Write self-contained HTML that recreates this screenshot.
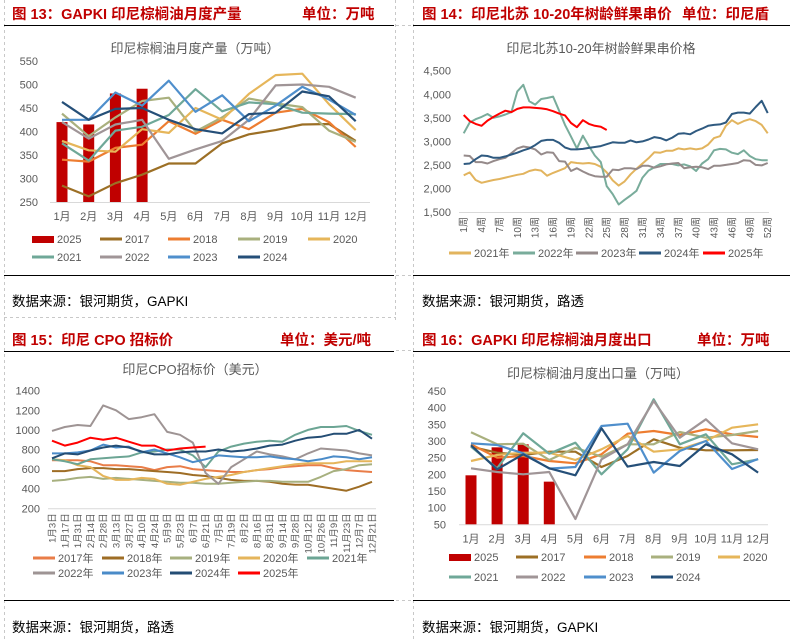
<!DOCTYPE html>
<html><head><meta charset="utf-8"><style>
html,body{margin:0;padding:0;background:#fff;}
svg{display:block;font-family:"Liberation Sans","Noto Sans CJK SC",sans-serif;}
</style></head><body>
<svg id="s" width="792" height="639" viewBox="0 0 792 639" xmlns="http://www.w3.org/2000/svg">
<g stroke="#c8c8c8" stroke-dasharray="3,3" fill="none">
<line x1="4.5" y1="0" x2="4.5" y2="639"/><line x1="413.5" y1="0" x2="413.5" y2="639"/>
<line x1="396" y1="25.5" x2="413" y2="25.5"/><line x1="396" y1="275.5" x2="413" y2="275.5"/>
<line x1="396" y1="350.5" x2="413" y2="350.5"/><line x1="396" y1="600.5" x2="413" y2="600.5"/>
<line x1="4" y1="317.5" x2="396" y2="317.5"/><line x1="395.5" y1="0" x2="395.5" y2="320"/>
</g>
<g stroke="#000" stroke-width="1">
<line x1="4" y1="25.5" x2="394" y2="25.5"/><line x1="4" y1="275.5" x2="394" y2="275.5"/>
<line x1="413" y1="25.5" x2="790" y2="25.5"/><line x1="413" y1="275.5" x2="790" y2="275.5"/>
<line x1="4" y1="351.5" x2="394" y2="351.5"/><line x1="4" y1="600.5" x2="394" y2="600.5"/>
<line x1="413" y1="351.5" x2="790" y2="351.5"/><line x1="413" y1="600.5" x2="790" y2="600.5"/>
</g>
<g fill="#C00000" font-weight="bold" font-size="14.5">
<text x="12" y="19">图 13：GAPKI 印尼棕榈油月度产量</text>
<text x="302" y="19">单位：万吨</text>
<text x="422" y="19">图 14：印尼北苏 10-20年树龄鲜果串价</text>
<text x="682" y="19">单位：印尼盾</text>
<text x="12" y="345">图 15：印尼 CPO 招标价</text>
<text x="280" y="345">单位：美元/吨</text>
<text x="422" y="345">图 16：GAPKI 印尼棕榈油月度出口</text>
<text x="697" y="345">单位：万吨</text>
</g>
<g fill="#000" font-size="13.5">
<text x="12" y="306">数据来源：银河期货，GAPKI</text>
<text x="422" y="306">数据来源：银河期货，路透</text>
<text x="12" y="632">数据来源：银河期货，路透</text>
<text x="422" y="632">数据来源：银河期货，GAPKI</text>
</g>
<g fill="#595959" font-size="13" text-anchor="middle">
<text x="195" y="53">印尼棕榈油月度产量（万吨）</text>
<text x="601" y="53">印尼北苏10-20年树龄鲜果串价格</text>
<text x="195" y="374">印尼CPO招标价（美元）</text>
<text x="598" y="378">印尼棕榈油月度出口量（万吨）</text>
</g>
</svg>
<script>
// ---- Chart 13 data ----
const months = ['1月','2月','3月','4月','5月','6月','7月','8月','9月','10月','11月','12月'];
const p13Ticks = [250,300,350,400,450,500,550];
const p13Bar2025 = [420,415,481,491];
const p13Y2017 = [285,262,290,308,332,332,375,394,403,415,416,380];
const p13Y2018 = [340,336,365,372,422,395,425,405,440,448,420,367];
const p13Y2019 = [438,390,430,465,472,400,430,470,460,452,402,378];
const p13Y2020 = [380,360,357,405,397,450,425,480,520,523,458,403];
const p13Y2021 = [375,338,402,410,435,490,443,462,458,440,438,437];
const p13Y2022 = [420,385,415,425,342,362,380,425,498,500,495,472];
const p13Y2023 = [425,425,483,455,508,442,477,422,455,495,468,435];
const p13Y2024 = [463,425,448,450,425,405,396,437,440,485,475,422];
// ---- Chart 14 data ----
const p14Ticks = [1500,2000,2500,3000,3500,4000,4500];
const p14Y2021 = [2280,2340,2180,2120,2150,2180,2200,2230,2260,2290,2310,2370,2400,2380,2270,2330,2380,2430,2560,2540,2530,2540,2520,2460,2340,2170,2060,2150,2300,2420,2530,2640,2770,2760,2800,2800,2850,2830,2850,2830,2850,2930,3070,3110,3330,3450,3370,3430,3470,3430,3350,3170];
const p14Y2022 = [3170,3400,3470,3520,3580,3500,3530,3570,3620,4060,4200,3850,3780,3900,3920,3950,3650,3350,3100,2850,3120,2900,2700,2560,2050,1880,1660,1760,1850,1950,2230,2380,2450,2520,2520,2520,2490,2510,2470,2370,2530,2620,2810,2840,2830,2760,2730,2810,2690,2620,2600,2600];
const p14Y2023 = [2700,2690,2560,2560,2530,2580,2620,2650,2750,2850,2890,2870,2830,2720,2770,2760,2580,2570,2370,2430,2360,2300,2260,2250,2250,2400,2390,2430,2430,2410,2480,2480,2440,2470,2510,2530,2540,2430,2450,2460,2450,2410,2480,2480,2500,2520,2540,2600,2590,2500,2490,2540];
const p14Y2024 = [2520,2530,2620,2700,2690,2650,2650,2680,2720,2760,2810,2850,2920,3010,3030,3030,2970,2870,2830,2830,2840,2860,2880,2900,2940,2980,2970,2970,3020,2980,3000,3040,3090,3070,3020,3080,3160,3170,3150,3220,3270,3330,3350,3360,3400,3580,3610,3610,3590,3730,3860,3600];
const p14Y2025 = [3560,3430,3370,3330,3440,3520,3590,3650,3620,3690,3720,3720,3710,3700,3680,3640,3590,3550,3390,3300,3450,3370,3330,3310,3240];
// ---- Chart 15 data ----
const p15Dates = ['1月3日','1月17日','1月31日','2月14日','2月28日','3月13日','3月27日','4月10日','4月24日','5月9日','5月23日','6月7日','6月21日','7月5日','7月19日','8月2日','8月16日','8月31日','9月14日','9月28日','10月12日','10月26日','11月9日','11月23日','12月7日','12月21日'];
const p15Ticks = [200,400,600,800,1000,1200,1400];
const p15Y2017 = [690,690,690,680,640,640,630,620,590,620,630,600,590,580,570,570,590,600,620,630,640,640,610,590,580,570];
const p15Y2018 = [580,580,600,610,610,600,600,590,580,570,560,540,530,510,490,480,480,470,450,440,440,420,400,380,420,470];
const p15Y2019 = [480,490,510,520,500,510,500,490,480,470,460,460,450,450,460,470,480,480,470,470,470,520,580,600,640,650];
const p15Y2020 = [700,690,640,620,530,490,490,510,500,450,440,470,500,520,540,570,590,610,630,650,660,660,660,680,680,680];
const p15Y2021 = [700,680,650,700,710,720,730,770,780,800,800,740,620,780,830,860,880,890,880,950,1000,1030,1030,1040,990,950];
const p15Y2022 = [990,1030,1050,1040,1250,1200,1110,1130,1160,980,950,870,560,450,620,700,780,750,730,700,760,810,800,790,760,740];
const p15Y2023 = [760,760,770,790,850,820,830,770,800,760,720,670,700,740,730,720,720,730,710,700,680,700,730,720,700,720];
const p15Y2024 = [710,760,750,790,820,840,820,780,750,750,770,780,780,800,780,790,810,840,850,890,920,930,960,960,1000,910];
const p15Y2025 = [890,840,870,920,900,920,880,840,840,790,810,820,830];
// ---- Chart 16 data ----
const p16Ticks = [50,100,150,200,250,300,350,400,450];
const p16Bar2025 = [197,281,290,178];
const p16Y2017 = [283,265,258,268,268,222,255,305,280,272,272,273];
const p16Y2018 = [290,250,255,240,233,260,322,330,318,335,320,312];
const p16Y2019 = [326,290,292,243,280,253,290,290,327,310,318,330];
const p16Y2020 = [240,258,265,265,243,275,315,268,275,300,340,350];
const p16Y2021 = [283,218,323,262,295,200,275,425,290,320,230,245];
const p16Y2022 = [218,207,200,207,66,245,290,420,310,365,293,275];
const p16Y2023 = [293,288,263,217,222,345,352,205,270,300,216,246];
const p16Y2024 = [287,215,260,218,197,338,223,237,225,290,260,205];

const NS='http://www.w3.org/2000/svg';
const svg=document.getElementById('s');
function mk(tag,attrs,parent){const e=document.createElementNS(NS,tag);for(const k in attrs)e.setAttribute(k,attrs[k]);(parent||svg).appendChild(e);return e;}
function txt(s,attrs,parent){const e=mk('text',attrs,parent);e.textContent=s;return e;}

function chart(cfg){
  const g=mk('g',{});
  
  
  const Y=v=>cfg.yTop+(cfg.vMax-v)*(cfg.yBot-cfg.yTop)/(cfg.vMax-cfg.vMin);
  const X=i=>cfg.x0+i*cfg.dx;
  const axis=mk('line',{x1:cfg.axL,x2:cfg.axR,y1:Y(cfg.vMin)+0.5,y2:Y(cfg.vMin)+0.5,stroke:'#d9d9d9','stroke-width':1},g);
  
  
  cfg.ticks.forEach(t=>{
    const e=txt(cfg.fmt?cfg.fmt(t):String(t),{x:cfg.tickX,y:Y(t)+4,'text-anchor':'end','font-size':11,fill:'#595959'},g);
    
    
  });
  cfg.cats.forEach((c,i)=>{
    if(cfg.catStep && i%cfg.catStep) return;
    let e;
    if(cfg.rotate){
      const x=X(i)+3.5, y=Y(cfg.vMin)+5;
      e=txt(c,{x:x,y:y,'text-anchor':'end','font-size':cfg.catSize||10,fill:'#595959',transform:`rotate(-90 ${x} ${y})`},g);
    } else {
      e=txt(c,{x:X(i),y:Y(cfg.vMin)+18,'text-anchor':'middle','font-size':11,fill:'#595959'},g);
    }
    
    
  });
  if(cfg.bars){
    cfg.bars.forEach((v,i)=>{
      const r=mk('rect',{x:X(i)-5.5,y:Y(v),width:11,height:Y(cfg.vMin)-Y(v),fill:'#C00000'},g);
      
      
    });
  }
  cfg.series.forEach(s=>{
    const pts=s.data.map((v,i)=>X(i).toFixed(1)+','+Y(v).toFixed(1)).join(' ');
    const p=mk('polyline',{points:pts,fill:'none',stroke:s.color,'stroke-width':cfg.sw||2.2,'stroke-linejoin':'round'},g);
    
    
  });
  cfg.legend.forEach(l=>{
    const lg=mk('g',{},g);
    
    
    if(l.bar) mk('rect',{x:l.x,y:l.y-3,width:22,height:7,fill:'#C00000'},lg);
    else mk('line',{x1:l.x,x2:l.x+22,y1:l.y,y2:l.y,stroke:l.color,'stroke-width':3},lg);
    txt(l.label,{x:l.x+25,y:l.y+4,'font-size':11,fill:'#595959'},lg);
  });
}

const C={y17:'#9C6F25',y18:'#ED7D31',y19:'#A9B07E',y20:'#E6B65A',y21:'#6FA898',y22:'#A09597',y23:'#4F8FCC',y24:'#254F78'};
function legendMonthly(x0s,y1,y2){
  const l=[{label:'2025',bar:true}, {label:'2017',color:C.y17},{label:'2018',color:C.y18},{label:'2019',color:C.y19},{label:'2020',color:C.y20},
           {label:'2021',color:C.y21},{label:'2022',color:C.y22},{label:'2023',color:C.y23},{label:'2024',color:C.y24}];
  return l.map((e,i)=>Object.assign(e,{x:x0s[i%5],y:i<5?y1:y2}));
}

chart({name:'chart-fig13',yTop:61,yBot:202,vMin:250,vMax:550,x0:62,dx:26.7,axL:50,axR:370,tickX:38,ticks:p13Ticks,cats:months,bars:p13Bar2025,
  series:[{label:'2017',data:p13Y2017,color:C.y17},{label:'2018',data:p13Y2018,color:C.y18},{label:'2019',data:p13Y2019,color:C.y19},{label:'2020',data:p13Y2020,color:C.y20},{label:'2021',data:p13Y2021,color:C.y21},{label:'2022',data:p13Y2022,color:C.y22},{label:'2023',data:p13Y2023,color:C.y23},{label:'2024',data:p13Y2024,color:C.y24}],
  legend:legendMonthly([32,100,168,238,308],239,257)});

const weeks=[];for(let i=1;i<=52;i++)weeks.push(i+'周');
chart({name:'chart-fig14',yTop:70.7,yBot:212,vMin:1500,vMax:4500,x0:463.7,dx:5.96,axL:459,axR:769,tickX:451,ticks:p14Ticks,fmt:t=>t.toLocaleString('en-US'),
  cats:weeks,catStep:3,rotate:true,sw:2,
  series:[{label:'2021',data:p14Y2021,color:'#E2B45E'},{label:'2022',data:p14Y2022,color:'#79AC9B'},{label:'2023',data:p14Y2023,color:'#958A8A'},{label:'2024',data:p14Y2024,color:'#2F5A80'},{label:'2025',data:p14Y2025,color:'#FF0000'}],
  legend:[{label:'2021年',color:'#E2B45E',x:449,y:253},{label:'2022年',color:'#79AC9B',x:513,y:253},{label:'2023年',color:'#958A8A',x:576,y:253},{label:'2024年',color:'#2F5A80',x:639,y:253},{label:'2025年',color:'#FF0000',x:703,y:253}]});

chart({name:'chart-fig15',yTop:390.7,yBot:508.3,vMin:200,vMax:1400,x0:52,dx:12.8,axL:48,axR:376,tickX:40,ticks:p15Ticks,cats:p15Dates,rotate:true,catSize:9.5,sw:2,
  series:[{label:'2017',data:p15Y2017,color:'#E97D48'},{label:'2018',data:p15Y2018,color:'#9E6D25'},{label:'2019',data:p15Y2019,color:'#A7B07F'},{label:'2020',data:p15Y2020,color:'#E5B55B'},{label:'2021',data:p15Y2021,color:'#6CA594'},{label:'2022',data:p15Y2022,color:'#9E9494'},{label:'2023',data:p15Y2023,color:'#4A8BC8'},{label:'2024',data:p15Y2024,color:'#244D74'},{label:'2025',data:p15Y2025,color:'#FF0000'}],
  legend:[{label:'2017年',color:'#E97D48',x:33,y:558},{label:'2018年',color:'#9E6D25',x:102,y:558},{label:'2019年',color:'#A7B07F',x:170,y:558},{label:'2020年',color:'#E5B55B',x:238,y:558},{label:'2021年',color:'#6CA594',x:307,y:558},
          {label:'2022年',color:'#9E9494',x:33,y:573},{label:'2023年',color:'#4A8BC8',x:102,y:573},{label:'2024年',color:'#244D74',x:170,y:573},{label:'2025年',color:'#FF0000',x:238,y:573}]});

chart({name:'chart-fig16',yTop:391,yBot:524.3,vMin:50,vMax:450,x0:471,dx:26.1,axL:459,axR:768,tickX:446,ticks:p16Ticks,cats:months,bars:p16Bar2025,
  series:[{label:'2017',data:p16Y2017,color:C.y17},{label:'2018',data:p16Y2018,color:C.y18},{label:'2019',data:p16Y2019,color:C.y19},{label:'2020',data:p16Y2020,color:C.y20},{label:'2021',data:p16Y2021,color:C.y21},{label:'2022',data:p16Y2022,color:C.y22},{label:'2023',data:p16Y2023,color:C.y23},{label:'2024',data:p16Y2024,color:C.y24}],
  legend:legendMonthly([449,516,584,651,718],557,577)});
</script>
</body></html>
